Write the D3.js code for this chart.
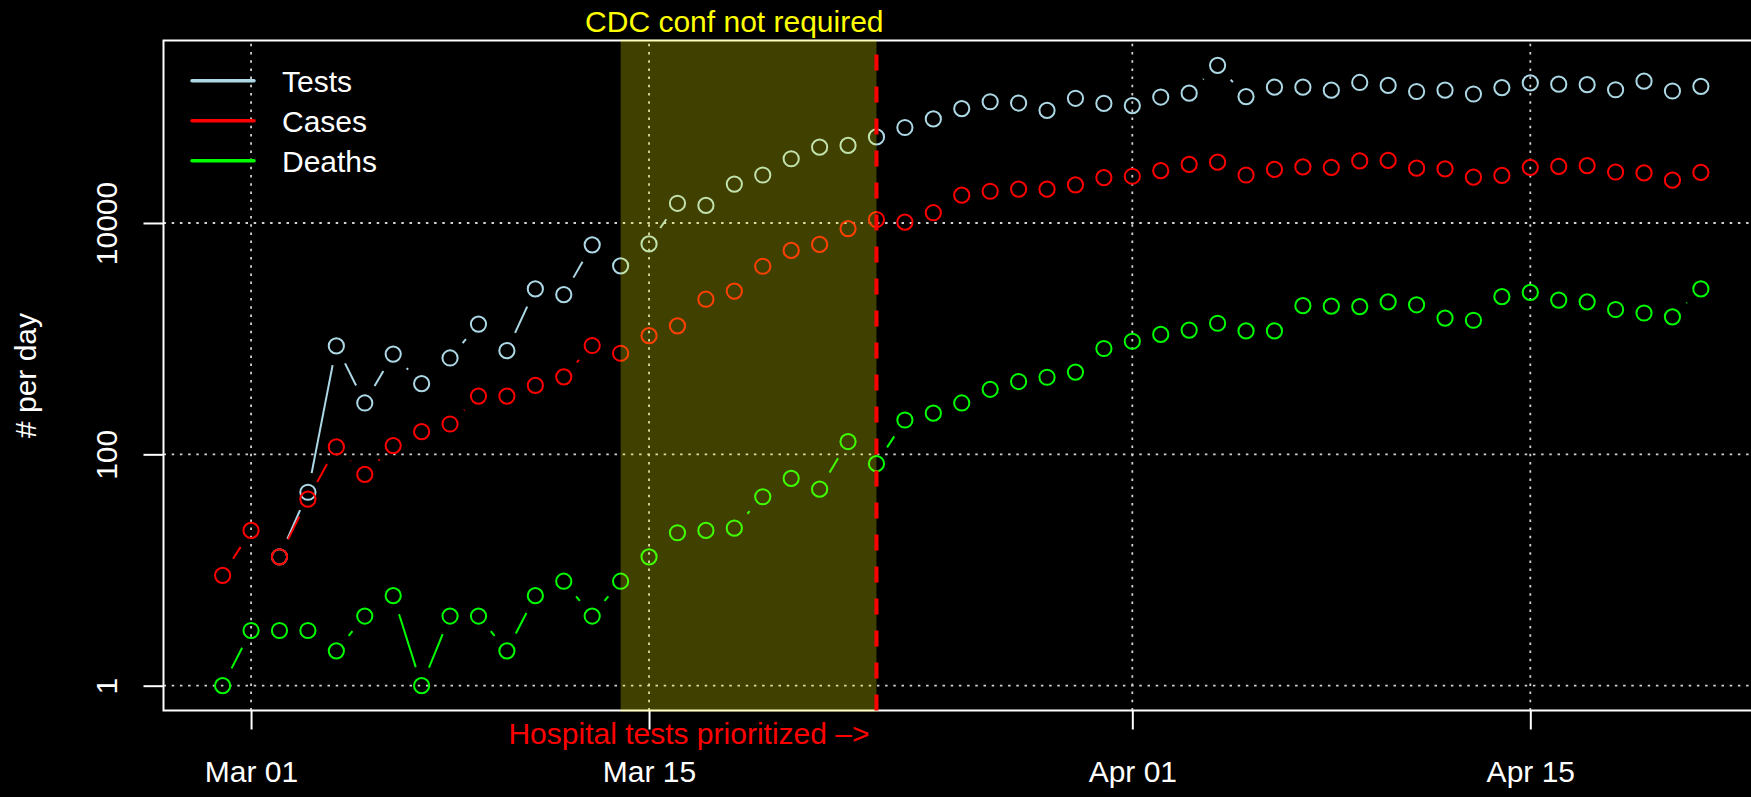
<!DOCTYPE html>
<html>
<head>
<meta charset="utf-8">
<script src="https://cdn.jsdelivr.net/npm/d3@7"></script>
<style>
html, body { margin: 0; padding: 0; background: #000; }
svg { display: block; }
text { font-family: "Liberation Sans", Arial, Helvetica, sans-serif; }
</style>
</head>
<body>
<svg id="chart" width="1751" height="797"></svg>
<script>
// jours du 29 fev au 21 avr 2020
var firstDay = "2020-02-29";
var lastDay = "2020-04-21";

var tests = [null, null, 13, 47, 865, 278, 736, 408, 681, 1336, 788, 2690, 2406, 6470, 4264, 6589,
    14800, 14190, 21700, 26000, 35900, 45200, 46800, 55500, 66900, 79400, 97500, 111700, 108900, 94200,
    119700, 108000, 103500, 122700, 132500, 230700, 123800, 149400, 149400, 140600, 164000, 154500,
    137000, 140600, 130300, 148000, 162600, 158500, 157100, 141800, 168200, 138300, 151800];
var cases = [9, 22, 13, 41, 116, 67, 119, 157, 183, 319, 319, 395, 468, 873, 748, 1062,
    1291, 2193, 2576, 4227, 5794, 6531, 8950, 10710, 10170, 12270, 17400, 18800, 19630, 19600,
    21370, 24700, 25350, 28330, 32150, 33570, 26000, 29040, 30550, 30280, 34430, 34730,
    29790, 29330, 24900, 25770, 30280, 30830, 31350, 27600, 27100, 23460, 27360];
var deaths = [1, 3, 3, 3, 2, 4, 6, 1, 4, 4, 2, 6, 8, 4, 8, 13,
    21, 22, 23, 43, 62, 50, 129, 83, 198, 227, 278, 365, 426, 464,
    514, 822, 950, 1089, 1186, 1359, 1166, 1166, 1928, 1910, 1895, 2083,
    1963, 1506, 1443, 2307, 2512, 2154, 2083, 1786, 1667, 1545, 2690];

var seriesNames = ["Tests", "Cases", "Deaths"];
var seriesColors = ["#add8e6", "#ff0000", "#00ff00"];

var xTickDates = ["2020-03-01", "2020-03-15", "2020-04-01", "2020-04-15"];
var xTickLabels = ["Mar 01", "Mar 15", "Apr 01", "Apr 15"];
var yTickValues = [1, 100, 10000];
var yTickLabels = ["1", "100", "10000"];

var shadeStart = "2020-03-14";
var shadeEnd = "2020-03-23";
var shadeLabelAt = "2020-03-18";
var shadeLabel = "CDC conf not required";
var lineLabel = "Hospital tests prioritized –>";
var yTitle = "# per day";

var parse = d3.utcParse("%Y-%m-%d");
var days = d3.utcDay.range(parse(firstDay), d3.utcDay.offset(parse(lastDay), 1));

var svg = d3.select("#chart");
var boxLeft = 163.5, boxTop = 40.5, boxBottom = 710.5, boxRight = 1760;

// comme R : 4% de marge de chaque cote
var t0 = parse(firstDay).getTime(), t1 = parse(lastDay).getTime();
var pad = (t1 - t0) * 0.04;
var x = d3.scaleUtc()
    .domain([new Date(t0 - pad), new Date(t1 + pad)])
    .range([boxLeft, boxRight]);

var all = tests.concat(cases, deaths).filter(function (d) { return d != null; });
var lo = Math.log10(d3.min(all)), hi = Math.log10(d3.max(all));
var lpad = (hi - lo) * 0.04;
var y = d3.scaleLog()
    .domain([Math.pow(10, lo - lpad), Math.pow(10, hi + lpad)])
    .range([boxBottom, boxTop]);

// grille pointillee
var grid = svg.append("g").attr("id", "grid")
    .attr("stroke", "#d3d3d3")
    .attr("stroke-width", 1.8)
    .attr("stroke-dasharray", "2.5,5.7");
grid.selectAll("line.v")
    .data(xTickDates)
    .enter()
    .append("line")
    .attr("class", "v")
    .attr("x1", function (d) { return x(parse(d)); })
    .attr("x2", function (d) { return x(parse(d)); })
    .attr("y1", boxBottom)
    .attr("y2", boxTop);
grid.selectAll("line.h")
    .data(yTickValues)
    .enter()
    .append("line")
    .attr("class", "h")
    .attr("x1", boxLeft)
    .attr("x2", boxRight)
    .attr("y1", function (d) { return y(d); })
    .attr("y2", function (d) { return y(d); });

// type "b" : points + segments coupes pres des cercles
var gap = 19.5;
function drawSeries(values, color, id) {
    var g = svg.append("g").attr("id", id);
    var pts = [];
    values.forEach(function (v, i) {
        if (v != null) pts.push({ i: i, px: x(days[i]), py: y(v) });
        else pts.push(null);
    });
    var segs = [];
    for (var i = 1; i < pts.length; i++) {
        var a = pts[i - 1], b = pts[i];
        if (!a || !b) continue;
        var dx = b.px - a.px, dy = b.py - a.py;
        var len = Math.sqrt(dx * dx + dy * dy);
        if (len <= 2 * gap) continue;
        var ux = dx / len, uy = dy / len;
        segs.push({ x1: a.px + ux * gap, y1: a.py + uy * gap, x2: b.px - ux * gap, y2: b.py - uy * gap });
    }
    g.selectAll("line")
        .data(segs)
        .enter()
        .append("line")
        .attr("x1", function (d) { return d.x1; })
        .attr("y1", function (d) { return d.y1; })
        .attr("x2", function (d) { return d.x2; })
        .attr("y2", function (d) { return d.y2; })
        .attr("stroke", color)
        .attr("stroke-width", 2);
    g.selectAll("circle")
        .data(pts.filter(function (d) { return d; }))
        .enter()
        .append("circle")
        .attr("cx", function (d) { return d.px; })
        .attr("cy", function (d) { return d.py; })
        .attr("r", 7.6)
        .attr("fill", "none")
        .attr("stroke", color)
        .attr("stroke-width", 2);
}
drawSeries(tests, seriesColors[0], "tests");
drawSeries(cases, seriesColors[1], "cases");
drawSeries(deaths, seriesColors[2], "deaths");

// cadre
svg.append("rect")
    .attr("x", boxLeft)
    .attr("y", boxTop)
    .attr("width", boxRight - boxLeft)
    .attr("height", boxBottom - boxTop)
    .attr("fill", "none")
    .attr("stroke", "#fff")
    .attr("stroke-width", 2);

// axes
var xAxis = d3.axisBottom(x)
    .tickValues(xTickDates.map(parse))
    .tickFormat(function (d, i) { return xTickLabels[i]; })
    .tickSize(19);
var gx = svg.append("g").attr("transform", "translate(0," + boxBottom + ")").call(xAxis);
gx.select(".domain").remove();
gx.selectAll("line").attr("stroke", "#fff").attr("stroke-width", 2);
gx.selectAll("text")
    .attr("y", 71.5)
    .attr("dy", null)
    .attr("fill", "#fff")
    .attr("font-size", 30)
    .attr("font-family", null);

var yAxis = d3.axisLeft(y)
    .tickValues(yTickValues)
    .tickFormat(function (d, i) { return yTickLabels[i]; })
    .tickSize(20);
var gy = svg.append("g").attr("transform", "translate(" + boxLeft + ",0)").call(yAxis);
gy.select(".domain").remove();
gy.selectAll("line").attr("stroke", "#fff").attr("stroke-width", 2);
gy.selectAll("text")
    .attr("x", null)
    .attr("dy", null)
    .attr("text-anchor", "middle")
    .attr("transform", "translate(-47,0) rotate(-90)")
    .attr("fill", "#fff")
    .attr("font-size", 30)
    .attr("font-family", null);

svg.append("text")
    .attr("transform", "translate(35.5," + ((boxTop + boxBottom) / 2) + ") rotate(-90)")
    .attr("text-anchor", "middle")
    .attr("fill", "#fff")
    .attr("font-size", 30)
    .text(yTitle);

// zone jaune transparente par-dessus
var xs = x(parse(shadeStart)), xe = x(parse(shadeEnd));
svg.append("rect")
    .attr("x", xs)
    .attr("y", boxTop - 1)
    .attr("width", xe - xs)
    .attr("height", boxBottom - boxTop + 2)
    .attr("fill", "rgba(255,255,0,0.25)");

svg.append("line")
    .attr("x1", xe)
    .attr("x2", xe)
    .attr("y1", boxBottom)
    .attr("y2", boxTop)
    .attr("stroke", "#ff0000")
    .attr("stroke-width", 4)
    .attr("stroke-dasharray", "16,16");

svg.append("text")
    .attr("x", x(parse(shadeLabelAt)))
    .attr("y", 32)
    .attr("text-anchor", "middle")
    .attr("fill", "#ffff00")
    .attr("font-size", 30)
    .text(shadeLabel);

svg.append("text")
    .attr("x", xe - 7)
    .attr("y", 743.5)
    .attr("text-anchor", "end")
    .attr("fill", "#ff0000")
    .attr("font-size", 30)
    .text(lineLabel);

// legende
var leg = svg.append("g").attr("id", "legend");
leg.selectAll("line")
    .data(seriesNames)
    .enter()
    .append("line")
    .attr("x1", 192)
    .attr("x2", 254)
    .attr("y1", function (d, i) { return 80.7 + i * 40; })
    .attr("y2", function (d, i) { return 80.7 + i * 40; })
    .attr("stroke", function (d, i) { return seriesColors[i]; })
    .attr("stroke-width", 3.5)
    .attr("stroke-linecap", "round");
leg.selectAll("text")
    .data(seriesNames)
    .enter()
    .append("text")
    .attr("x", 282)
    .attr("y", function (d, i) { return 91.7 + i * 40; })
    .attr("fill", "#fff")
    .attr("font-size", 30)
    .text(function (d) { return d; });
</script>
</body>
</html>
